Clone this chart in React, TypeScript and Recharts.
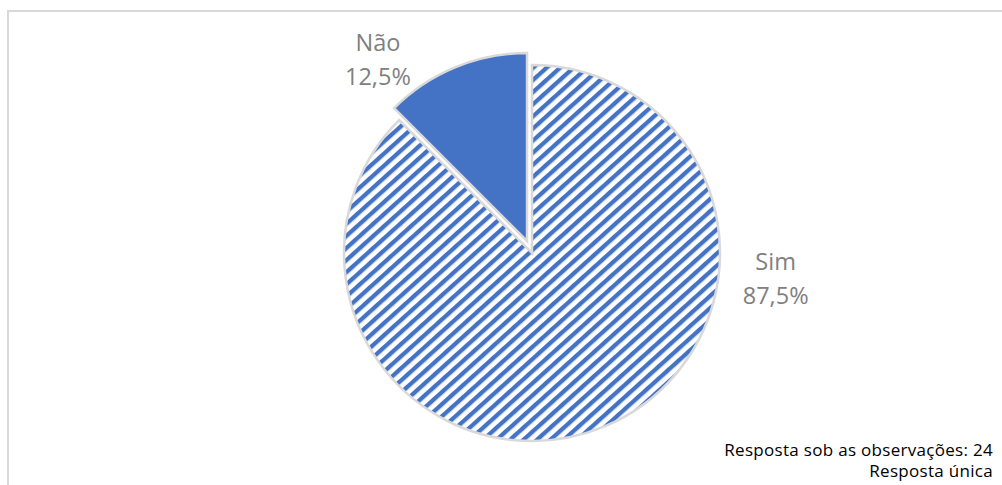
import React from "react"
import { PieChart, Pie, Cell, Sector } from "recharts"

const categories = ["Não", "Sim"]
const values = [12.5, 87.5]
const footnotes = ["Resposta sob as observações: 24", "Resposta única"]

const data = categories.map((name, i) => ({ name, value: values[i] }))

const RADIAN = Math.PI / 180
const BLUE = "#4472C4"
const LABEL_GRAY = "#808080"

// exploded distance per slice and label placement (angle in degrees, distance from centre)
const explode = [13, 0]
const labelPlace = [
	{ angle: 128.6, dist: 247 },
	{ angle: -6, dist: 245 },
]

const SliceShape = (props: any) => {
	const { cx, cy, midAngle, index } = props
	const d = explode[index] ?? 0
	const dx = d * Math.cos(-midAngle * RADIAN)
	const dy = d * Math.sin(-midAngle * RADIAN)
	return <Sector {...props} cx={cx + dx} cy={cy + dy} />
}

const renderLabel = (props: any) => {
	const { cx, cy, index, name, percent } = props
	const p = labelPlace[index]
	const x = cx + p.dist * Math.cos(-p.angle * RADIAN)
	const y = cy + p.dist * Math.sin(-p.angle * RADIAN)
	const pct = (percent * 100).toFixed(1).replace(".", ",") + "%"
	return (
		<text x={x} y={y} textAnchor="middle" fill={LABEL_GRAY} fontSize={23.5} fontFamily="'Open Sans', sans-serif">
			<tspan x={x} dy={-9}>{name}</tspan>
			<tspan x={x} dy={34}>{pct}</tspan>
		</text>
	)
}

export default function App() {
	return (
		<div style={{ position: "absolute", left: 0, top: 0, width: 1002, height: 485, overflow: "hidden", background: "#fff" }}>
			<div
				style={{
					position: "absolute",
					left: 7,
					top: 10,
					width: 1100,
					height: 600,
					border: "2px solid #D9D9D9",
				}}
			/>
			<div style={{ position: "absolute", left: 0, top: 0 }}>
				<PieChart width={1002} height={485}>
					<defs>
						<pattern id="wideUpDiag" patternUnits="userSpaceOnUse" width={9} height={9} patternTransform="rotate(48)">
							<rect x={0} y={0} width={9} height={9} fill="#FFFFFF" />
							<rect x={0} y={0} width={4.3} height={9} fill={BLUE} />
						</pattern>
					</defs>
					<Pie
						data={data}
						dataKey="value"
						nameKey="name"
						cx={527}
						cy={248}
						outerRadius={188}
						startAngle={90}
						endAngle={450}
						stroke="#D9D9D9"
						strokeWidth={2.5}
						labelLine={false}
						label={renderLabel}
						shape={SliceShape}
						isAnimationActive={false}
					>
						<Cell fill={BLUE} />
						<Cell fill="url(#wideUpDiag)" />
					</Pie>
				</PieChart>
			</div>
			<div
				style={{
					position: "absolute",
					right: 9,
					top: 439,
					textAlign: "right",
					fontFamily: "'Open Sans', sans-serif",
					fontSize: 17,
					lineHeight: "21px",
					letterSpacing: 0.3,
					color: "#000",
				}}
			>
				{footnotes.map((t) => (
					<div key={t}>{t}</div>
				))}
			</div>
		</div>
	)
}
